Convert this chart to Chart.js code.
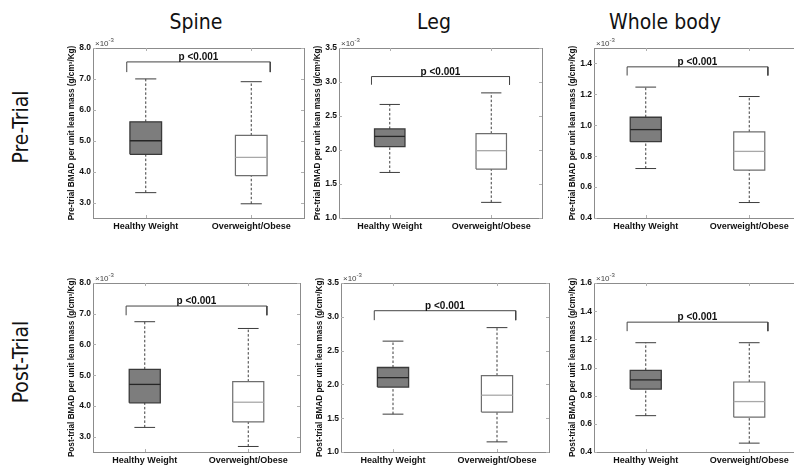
<!DOCTYPE html>
<html>
<head>
<meta charset="utf-8">
<script src="https://cdn.jsdelivr.net/npm/chart.js@4.4.1/dist/chart.umd.min.js"></script>
<style>
  html, body { margin: 0; padding: 0; background: #fff; overflow: hidden; }
  #page { position: relative; width: 794px; height: 470px; overflow: hidden; }
  #page canvas { position: absolute; }
  .lbl {
    position: absolute; white-space: nowrap; color: #111;
    font-family: 'Liberation Sans Narrow', 'Arial Narrow', 'DejaVu Sans Condensed', sans-serif;
    font-size: 21px; transform: translate(-50%, -50%);
  }
  .rot { transform: translate(-50%, -50%) rotate(-90deg); }
</style>
</head>
<body>
<div id="page"></div>
<script>
// ---- data (values in units of 10^-3 g/cm^3/Kg) ----
const categories = ['Healthy Weight', 'Overweight/Obese'];
const regions = ['Spine', 'Leg', 'Whole body'];
const phases = ['Pre-Trial', 'Post-Trial'];
const pLabel = 'p <0.001';

// [lower whisker, Q1, median, Q3, upper whisker] per group
const spinePre  = [[3.32, 4.56, 5.00, 5.61, 7.00], [2.96, 3.87, 4.46, 5.17, 6.91]];
const legPre    = [[1.67, 2.05, 2.20, 2.31, 2.67], [1.23, 1.72, 1.99, 2.24, 2.84]];
const wbPre     = [[0.72, 0.894, 0.972, 1.052, 1.247], [0.50, 0.71, 0.831, 0.957, 1.186]];
const spinePost = [[3.30, 4.10, 4.70, 5.19, 6.74], [2.68, 3.48, 4.12, 4.79, 6.52]];
const legPost   = [[1.56, 1.96, 2.10, 2.25, 2.64], [1.15, 1.59, 1.84, 2.13, 2.84]];
const wbPost    = [[0.658, 0.847, 0.912, 0.98, 1.176], [0.463, 0.647, 0.758, 0.897, 1.176]];

// significance bracket: [top of bracket, end of legs]
const spinePreBracket  = [7.55, 7.22];
const legPreBracket    = [3.08, 2.96];
const wbPreBracket     = [1.378, 1.322];
const spinePostBracket = [7.25, 6.95];
const legPostBracket   = [3.09, 2.95];
const wbPostBracket    = [1.322, 1.258];

// y axis per region: min, max, step
const yMin  = [2.5, 1.0, 0.4];
const yMax  = [8.0, 3.5, 1.5];
const yMaxPost = [8.0, 3.5, 1.6];
const yStep = [1.0, 0.5, 0.2];

// ---- styles / layout ----
const SANS = "'Liberation Sans', Arial, Helvetica, sans-serif";
const BOX = 0.15, CAP = 0.1, BR_L = 0.82, BR_R = 2.18;
const AXIS_W = 34, AXIS_H = 17, PAD_T = 12, PAD_R = 2;
const groupStyle = [
  { fill: '#7d7d7d', edge: '#3a3a3a', median: '#262626', width: 1.3 },
  { fill: '#ffffff', edge: '#6e6e6e', median: '#a8a8a8', width: 1.2 }
];
const whiskerColor = '#3c3c3c';
const frameColor = '#8c8c8c';

// plot rectangles [left, top, right, bottom]
const rects = [
  [[93, 48, 304, 218], [339, 48, 542, 218], [594, 48, 801, 218]],
  [[93, 283, 300, 452], [341, 283, 549, 452], [594, 283, 801, 452]]
];
const panels = [
  [spinePre, spinePreBracket, 0, 0], [legPre, legPreBracket, 0, 1], [wbPre, wbPreBracket, 0, 2],
  [spinePost, spinePostBracket, 1, 0], [legPost, legPostBracket, 1, 1], [wbPost, wbPostBracket, 1, 2]
];

const page = document.getElementById('page');

// column and row headings
const titleX = [196, 434, 665];
regions.forEach((r, i) => {
  const d = document.createElement('div');
  d.className = 'lbl';
  d.textContent = r;
  d.style.left = titleX[i] + 'px';
  d.style.top = '22px';
  page.appendChild(d);
});
const rowY = [127, 362];
phases.forEach((p, i) => {
  const d = document.createElement('div');
  d.className = 'lbl rot';
  d.textContent = p;
  d.style.left = '21px';
  d.style.top = rowY[i] + 'px';
  page.appendChild(d);
});

function seg(points, color, width, dash) {
  return {
    data: points, showLine: true, pointRadius: 0, borderColor: color,
    borderWidth: width, borderDash: dash || [], fill: false, tension: 0
  };
}

// note: Chart.js paints lower dataset indexes on top
function boxDatasets(stats, bracket) {
  const ds = [];
  const [top, end] = bracket;
  ds.push(seg([{x: BR_L, y: end}, {x: BR_L, y: top}, {x: BR_R, y: top}, {x: BR_R, y: end}], '#444', 1));
  stats.forEach((s, i) => {
    const x = i + 1;
    const [lo, q1, med, q3, hi] = s;
    const st = groupStyle[i];
    ds.push(seg([{x: x - BOX, y: med}, {x: x + BOX, y: med}], st.median, 1.3));
    const box = seg([
      {x: x - BOX, y: q1}, {x: x + BOX, y: q1}, {x: x + BOX, y: q3},
      {x: x - BOX, y: q3}, {x: x - BOX, y: q1}
    ], st.edge, st.width);
    box.fill = 'shape';
    box.backgroundColor = st.fill;
    ds.push(box);
    ds.push(seg([{x: x - CAP, y: lo}, {x: x + CAP, y: lo}], whiskerColor, 1));
    ds.push(seg([{x: x - CAP, y: hi}, {x: x + CAP, y: hi}], whiskerColor, 1));
    ds.push(seg([{x: x, y: lo}, {x: x, y: q1}], whiskerColor, 1, [2.5, 2]));
    ds.push(seg([{x: x, y: q3}, {x: x, y: hi}], whiskerColor, 1, [2.5, 2]));
  });
  return ds;
}

// frame, inward ticks, exponent label and p-value text
const decorPlugin = {
  id: 'decor',
  afterDatasetsDraw(chart, args, opts) {
    const {ctx, chartArea: a, scales} = chart;
    ctx.save();
    ctx.strokeStyle = frameColor;
    ctx.lineWidth = 1;
    ctx.strokeRect(Math.round(a.left) + 0.5, Math.round(a.top) + 0.5,
      Math.round(a.right - a.left), Math.round(a.bottom - a.top));
    ctx.strokeStyle = '#b0b0b0';
    ctx.beginPath();
    scales.y.ticks.forEach(t => {
      const py = Math.round(scales.y.getPixelForValue(t.value)) + 0.5;
      ctx.moveTo(a.left, py); ctx.lineTo(a.left + 3, py);
      ctx.moveTo(a.right, py); ctx.lineTo(a.right - 3, py);
    });
    scales.x.ticks.forEach(t => {
      const px = Math.round(scales.x.getPixelForValue(t.value)) + 0.5;
      ctx.moveTo(px, a.bottom); ctx.lineTo(px, a.bottom - 3);
      ctx.moveTo(px, a.top); ctx.lineTo(px, a.top + 3);
    });
    ctx.stroke();

    // x10^-3
    ctx.fillStyle = '#444';
    ctx.textBaseline = 'alphabetic';
    ctx.textAlign = 'left';
    ctx.font = '8px ' + SANS;
    ctx.fillText('\u00d710', a.left + 2, a.top - 2);
    const w = ctx.measureText('\u00d710').width;
    ctx.font = '6px ' + SANS;
    ctx.fillText('-3', a.left + 2 + w, a.top - 6);

    // p-value above bracket
    const br = opts.bracket;
    ctx.fillStyle = '#111';
    ctx.font = 'bold 10px ' + SANS;
    ctx.textAlign = 'center';
    ctx.textBaseline = 'bottom';
    const cx = (scales.x.getPixelForValue(1) + scales.x.getPixelForValue(2)) / 2;
    ctx.fillText(pLabel, cx, scales.y.getPixelForValue(br[0]) + 0.5);
    ctx.restore();
  }
};

panels.forEach(([stats, bracket, row, col]) => {
  const [L, T, R, B] = rects[row][col];
  const canvas = document.createElement('canvas');
  canvas.width = R - L + AXIS_W + PAD_R;
  canvas.height = B - T + PAD_T + AXIS_H;
  canvas.style.left = (L - AXIS_W) + 'px';
  canvas.style.top = (T - PAD_T) + 'px';
  page.appendChild(canvas);

  const max = row === 0 ? yMax[col] : yMaxPost[col];
  const yTitle = (row === 0 ? 'Pre-trial' : 'Post-trial') + ' BMAD per unit lean mass (g/cm\u00b3/Kg)';

  new Chart(canvas.getContext('2d'), {
    type: 'scatter',
    data: { datasets: boxDatasets(stats, bracket) },
    plugins: [decorPlugin],
    options: {
      responsive: false,
      animation: false,
      events: [],
      layout: { padding: { top: PAD_T, right: PAD_R, left: 0, bottom: 0 } },
      plugins: {
        legend: { display: false },
        tooltip: { enabled: false },
        decor: { bracket: bracket }
      },
      scales: {
        x: {
          type: 'linear', min: 0.5, max: 2.5,
          afterBuildTicks(s) { s.ticks = categories.map((c, i) => ({ value: i + 1 })); },
          ticks: {
            autoSkip: false, maxRotation: 0, padding: 3, color: '#111',
            font: { family: SANS, size: 9, weight: 'bold' },
            callback: v => categories[v - 1]
          },
          grid: { display: false, drawTicks: false },
          border: { display: false },
          afterFit(s) { s.height = AXIS_H; }
        },
        y: {
          min: yMin[col], max: max,
          ticks: {
            stepSize: yStep[col], includeBounds: false, padding: 2, color: '#111',
            font: { family: SANS, size: 8.5, weight: 'bold' },
            callback: v => v.toFixed(1)
          },
          grid: { display: false, drawTicks: false },
          border: { display: false },
          title: {
            display: true, text: yTitle, color: '#111',
            font: { family: SANS, size: 8.2, weight: 'bold' },
            padding: { top: 8, bottom: 0 }
          },
          afterFit(s) { s.width = AXIS_W; }
        }
      }
    }
  });
});
</script>
</body>
</html>
